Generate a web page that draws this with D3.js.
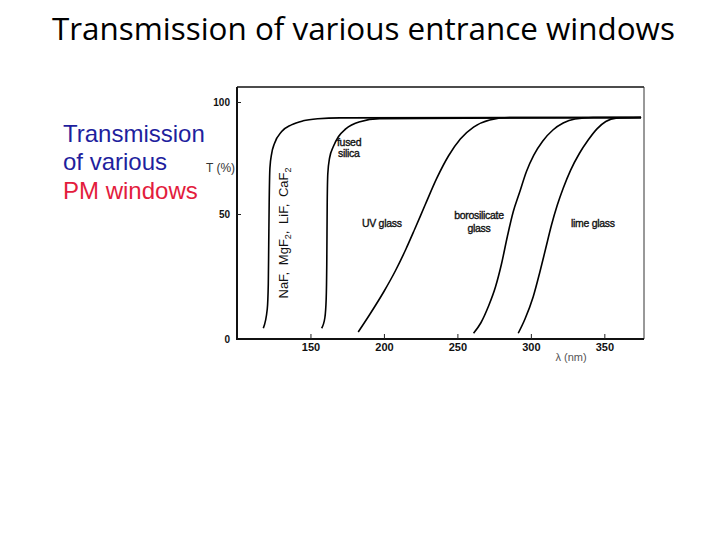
<!DOCTYPE html>
<html>
<head>
<meta charset="utf-8">
<script src="https://cdn.jsdelivr.net/npm/d3@7"></script>
<style>
  html, body { margin: 0; padding: 0; background: #fff; }
  svg { display: block; }
</style>
</head>
<body>
<svg id="chart" width="720" height="540"></svg>
<script>
// ---- data (wavelength nm, transmission %) ----
const xTicks = [150, 200, 250, 300, 350];
const yTicks = [0, 50, 100];
const nafCurve = [[117.9,4.3],[120.6,12],[121.3,22],[121.6,38],[121.9,55],[122.4,70.5],[123.6,77],[125.5,81.5],[130.4,86.8],[137,89.8],[145,91.6],[155,92.5],[170,92.9],[375,93.1]];
const fusedSilica = [[157.6,4.3],[159.8,8.5],[160.7,16],[161.1,30],[161.4,55],[161.8,68],[163,75],[165.5,80],[169,84.5],[174,88],[183.7,91.2],[197,92.6],[375,93.1]];
const uvGlass = [[182.5,2.8],[190,9.5],[200,19],[208,27.5],[215,36],[221,44],[228,54],[236,66],[244,76],[252,83.5],[261,88.8],[272,92],[285.7,93.1],[375,93.1]];
const borosilicate = [[261,2.3],[266,6.5],[271,12.9],[276,21],[280,30],[284,41],[288,51],[292,59],[297,69],[302,76.3],[308,82.5],[315,87.5],[322,90.6],[330,92.4],[342.4,93.1],[375,93.1]];
const limeGlass = [[291.4,2.3],[296,8],[301.6,16.9],[306,26.5],[310,36],[314,45.5],[318,54],[322,61.5],[327,69.5],[333,77],[339,83],[345,88],[351,91.3],[358,92.8],[375,93.1]];
const curves = [nafCurve, fusedSilica, uvGlass, borosilicate, limeGlass];

const svg = d3.select("#chart");

// ---- title ----
svg.append("text")
  .attr("x", 52).attr("y", 40)
  .attr("font-family", "'Open Sans', 'Noto Sans', sans-serif")
  .attr("font-size", 31.4)
  .attr("fill", "#000")
  .text("Transmission of various entrance windows");

// ---- left caption ----
const cap = [["Transmission", "#1f1f9e", 141.5], ["of various", "#1f1f9e", 170], ["PM windows", "#e31c3d", 199]];
cap.forEach(c => {
  svg.append("text")
    .attr("x", 63).attr("y", c[2])
    .attr("font-family", "'Liberation Sans', Arial, sans-serif")
    .attr("font-size", 24)
    .attr("fill", c[1])
    .text(c[0]);
});

// ---- scales ----
const x = d3.scaleLinear().domain([100, 377]).range([237, 644]);
const y = d3.scaleLinear().domain([0, 50, 100]).range([339, 214, 102]);
const yTop = 87;

// ---- frame ----
const g = svg.append("g");
g.append("line").attr("x1", 237).attr("x2", 644).attr("y1", yTop).attr("y2", yTop)
  .attr("stroke", "#111").attr("stroke-width", 1.5);
g.append("line").attr("x1", 644).attr("x2", 644).attr("y1", yTop).attr("y2", y(0))
  .attr("stroke", "#333").attr("stroke-width", 1);
g.append("line").attr("x1", 237).attr("x2", 237).attr("y1", yTop).attr("y2", y(0) + 1)
  .attr("stroke", "#111").attr("stroke-width", 2);
g.append("line").attr("x1", 236).attr("x2", 644).attr("y1", y(0)).attr("y2", y(0))
  .attr("stroke", "#111").attr("stroke-width", 2.2);

// ---- axes ----
const xAxis = d3.axisBottom(x).tickValues(xTicks).tickSize(-5).tickPadding(4);
const yAxis = d3.axisLeft(y).tickValues(yTicks).tickSize(-4).tickPadding(7);

const gx = svg.append("g").attr("transform", `translate(0,${y(0)})`).call(xAxis);
const gy = svg.append("g").attr("transform", `translate(237,0)`).call(yAxis);
[gx, gy].forEach(a => {
  a.select(".domain").remove();
  a.selectAll(".tick line").attr("stroke", "#222").attr("stroke-width", 1);
  a.selectAll(".tick text")
    .attr("font-family", "'Liberation Sans', Arial, sans-serif")
    .attr("font-size", 10).attr("font-weight", "bold").attr("fill", "#111");
});
gx.selectAll(".tick text").attr("font-size", 11);
gy.selectAll(".tick").filter(d => d === 0).select("line").remove();

// ---- curves ----
const line = d3.line().x(d => x(d[0])).y(d => y(d[1])).curve(d3.curveMonotoneX);
svg.append("g").selectAll("path").data(curves).join("path")
  .attr("d", line)
  .attr("fill", "none").attr("stroke", "#000").attr("stroke-width", 1.6);

// ---- axis titles ----
svg.append("text").attr("x", 206).attr("y", 172)
  .attr("font-family", "'Liberation Sans', Arial, sans-serif").attr("font-size", 12)
  .attr("fill", "#333").text("T (%)");
svg.append("text").attr("x", 571).attr("y", 361).attr("text-anchor", "middle")
  .attr("font-family", "'Liberation Sans', Arial, sans-serif").attr("font-size", 11)
  .attr("fill", "#555").text("λ (nm)");

// ---- curve labels ----
const lf = "'Liberation Sans', Arial, sans-serif";
function lbl(tx, ty, s, anchor) {
  svg.append("text").attr("x", tx).attr("y", ty).attr("text-anchor", anchor || "start")
    .attr("font-family", lf).attr("font-size", 10.5).attr("fill", "#111")
    .attr("stroke", "#111").attr("stroke-width", 0.35)
    .attr("letter-spacing", -0.3).text(s);
}
lbl(337, 146, "fused");
lbl(338, 157, "silica");
lbl(362, 227, "UV glass");
lbl(479, 219, "borosilicate", "middle");
lbl(479, 232, "glass", "middle");
lbl(571, 227, "lime glass");

// rotated label
const rt = svg.append("text")
  .attr("transform", "translate(288,233) rotate(-90)")
  .attr("text-anchor", "middle")
  .attr("font-family", lf).attr("font-size", 13).attr("fill", "#111")
  .attr("word-spacing", 3);
rt.append("tspan").text("NaF, MgF");
rt.append("tspan").attr("font-size", 9).attr("dy", 3).text("2");
rt.append("tspan").attr("dy", -3).text(", LiF, CaF");
rt.append("tspan").attr("font-size", 9).attr("dy", 3).text("2");
</script>
</body>
</html>
